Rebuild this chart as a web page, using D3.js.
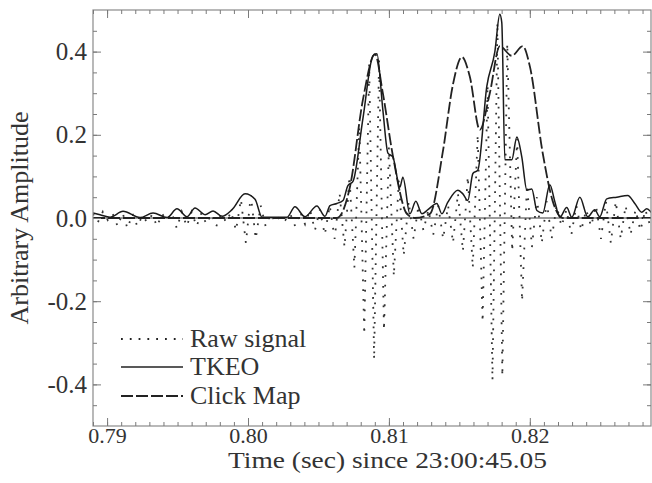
<!DOCTYPE html>
<html>
<head>
<meta charset="utf-8">
<script src="https://cdn.jsdelivr.net/npm/d3@7/dist/d3.min.js"></script>
<style>
    body { margin: 0; background: #fff; }
    text { font-family: "Liberation Serif", "DejaVu Serif", serif; fill: #333; }
</style>
</head>
<body>
<div class="chart"></div>
<script>
// raw signal, sampled from rawStart every rawStep seconds
let rawStart = 0.789;
let rawStep = 0.00035;
let rawValues = [
    0.01, -0.01, 0.015, -0.005, 0.01, -0.02, 0.012, -0.025, 0.01, -0.02,
    0.005, -0.01, 0.008, -0.02, 0.01, -0.005, 0.012, -0.025, 0.015, -0.02,
    0.015, -0.02, 0.012, -0.015, 0.01, -0.02, 0.01, -0.01, 0.015, -0.03,
    0.045, -0.06, 0.055, -0.05, 0.03, -0.02, 0.01, -0.01, 0.005, -0.005,
    0.01, -0.02, 0.015, -0.015, 0.02, -0.03, 0.02, -0.04, 0.03, -0.05,
    0.06, -0.07, 0.10, -0.12, 0.22, -0.28, 0.37, -0.34, 0.38, -0.27,
    0.17, -0.14, 0.09, -0.09, 0.04, -0.05, 0.03, -0.03, 0.02, -0.04,
    0.03, -0.05, 0.03, -0.06, 0.06, -0.08, 0.10, -0.12, 0.20, -0.25,
    0.32, -0.39, 0.47, -0.38, 0.42, -0.08, 0.19, -0.20, 0.08, -0.07,
    0.05, -0.06, 0.04, -0.05, 0.03, -0.02, 0.02, -0.04, 0.03, -0.03,
    0.02, -0.02, 0.03, -0.05, 0.04, -0.06, 0.04, -0.05, 0.03, -0.04,
    0.02, -0.03, 0.02, -0.02
];

let tkeoTimes = [
    0.7890, 0.78950, 0.79021, 0.79113, 0.79234, 0.79326, 0.79426, 0.79496, 0.79567, 0.79624,
    0.79695, 0.79752, 0.79816, 0.79887, 0.79979, 0.80050, 0.80099, 0.80277, 0.80333, 0.80404,
    0.80489, 0.80546, 0.80582, 0.80631, 0.80674, 0.80709, 0.80745, 0.80816, 0.80887, 0.80915,
    0.80957, 0.80993, 0.81028, 0.81078, 0.81099, 0.81149, 0.81191, 0.81234, 0.81277, 0.81340,
    0.81376, 0.81418, 0.81489, 0.81525, 0.81560, 0.81596, 0.81631, 0.81695, 0.81752, 0.81787,
    0.81801, 0.81823, 0.81872, 0.81908, 0.81943, 0.81979, 0.82014, 0.82050, 0.82092, 0.82142,
    0.82177, 0.82213, 0.82262, 0.82298, 0.82355, 0.82411, 0.82461, 0.82496, 0.82546, 0.82617,
    0.82695, 0.82745, 0.82794, 0.82830, 0.82865
];
let tkeoValues = [
    0.012, 0.008, 0.002, 0.016, 0.001, 0.012, 0.001, 0.022, 0.003, 0.024,
    0.008, 0.017, 0.004, 0.020, 0.058, 0.045, 0.002, 0.002, 0.027, 0.003,
    0.029, 0.004, 0.030, 0.035, 0.042, 0.078, 0.088, 0.240, 0.390, 0.395,
    0.260, 0.156, 0.147, 0.074, 0.098, 0.010, 0.040, 0.010, 0.020, 0.035,
    0.010, 0.038, 0.067, 0.058, 0.042, 0.107, 0.115, 0.317, 0.400, 0.490,
    0.470, 0.140, 0.140, 0.195, 0.147, 0.067, 0.070, 0.018, 0.012, 0.080,
    0.040, 0.002, 0.025, 0.002, 0.050, 0.003, 0.020, 0.003, 0.046, 0.050,
    0.054, 0.035, 0.014, 0.022, 0.012
];

let clickTimes = [
    0.7890, 0.80631, 0.80723, 0.80816, 0.80901, 0.80957, 0.81028, 0.81128, 0.81184, 0.81291,
    0.81383, 0.81454, 0.81518, 0.81574, 0.81645, 0.81716, 0.81787, 0.81872, 0.81950, 0.82000,
    0.82092, 0.82163, 0.82234, 0.8286
];
let clickValues = [
    0, 0, 0.074, 0.285, 0.394, 0.300, 0.150, 0.010, 0, 0.010,
    0.160, 0.320, 0.387, 0.340, 0.212, 0.300, 0.413, 0.390, 0.413, 0.365,
    0.155, 0.040, 0, 0
];

let xTicks = [0.79, 0.80, 0.81, 0.82];
let xTickLabels = ["0.79", "0.80", "0.81", "0.82"];
let yTicks = [-0.4, -0.2, 0.0, 0.2, 0.4];
let yTickLabels = ["-0.4", "-0.2", "0.0", "0.2", "0.4"];
let legendNames = ["Raw signal", "TKEO", "Click Map"];

let width = 652, height = 483;
let plot = {left: 93, right: 651, top: 10, bottom: 426};

let svg = d3.select(".chart").append("svg")
    .attr("width", width)
    .attr("height", height);

let x = d3.scaleLinear().domain([0.789, 0.8286]).range([plot.left, plot.right]);
let y = d3.scaleLinear().domain([-0.5, 0.5]).range([plot.bottom, plot.top]);

svg.append("clipPath").attr("id", "plot-clip")
    .append("rect")
    .attr("x", plot.left).attr("y", plot.top)
    .attr("width", plot.right - plot.left).attr("height", plot.bottom - plot.top);

let raw = rawValues.map(function (v, i) {
    return {t: rawStart + i * rawStep, v: v};
});
let tkeo = tkeoTimes.map(function (t, i) {
    return {t: t, v: tkeoValues[i]};
});
let clickMap = clickTimes.map(function (t, i) {
    return {t: t, v: clickValues[i]};
});

let lineLinear = d3.line()
    .x(function (d) { return x(d.t); })
    .y(function (d) { return y(d.v); });
let lineSmooth = d3.line()
    .curve(d3.curveMonotoneX)
    .x(function (d) { return x(d.t); })
    .y(function (d) { return y(d.v); });

let g = svg.append("g").attr("clip-path", "url(#plot-clip)");

// zero line
g.append("line")
    .attr("x1", plot.left).attr("x2", plot.right)
    .attr("y1", y(0)).attr("y2", y(0))
    .attr("stroke", "#7a7a7a")
    .attr("stroke-width", 1.6);

g.append("path")
    .datum(raw)
    .attr("fill", "none")
    .attr("stroke", "#333")
    .attr("stroke-width", 1.8)
    .attr("stroke-dasharray", "1.8,8")
    .attr("d", lineLinear);

g.append("path")
    .datum(clickMap)
    .attr("fill", "none")
    .attr("stroke", "#222")
    .attr("stroke-width", 1.8)
    .attr("stroke-dasharray", "12,3")
    .attr("d", lineSmooth);

g.append("path")
    .datum(tkeo)
    .attr("fill", "none")
    .attr("stroke", "#1a1a1a")
    .attr("stroke-width", 1.5)
    .attr("d", lineSmooth);

// frame
svg.append("rect")
    .attr("x", plot.left).attr("y", plot.top)
    .attr("width", plot.right - plot.left).attr("height", plot.bottom - plot.top)
    .attr("fill", "none")
    .attr("stroke", "#8a8a8a")
    .attr("stroke-width", 1.2);

let xMinor = d3.range(0.789, 0.8286, 0.001);
let yMinor = d3.range(-0.45, 0.5, 0.05);

function styleAxis(sel) {
    sel.select(".domain").remove();
    sel.selectAll(".tick line").attr("stroke", "#7a7a7a").attr("stroke-width", 1);
}

// inward ticks on all four sides
svg.append("g").attr("transform", "translate(0," + plot.bottom + ")")
    .call(d3.axisBottom(x).tickValues(xMinor).tickSize(-4).tickFormat(""))
    .call(styleAxis);
svg.append("g").attr("transform", "translate(0," + plot.top + ")")
    .call(d3.axisTop(x).tickValues(xMinor).tickSize(-4).tickFormat(""))
    .call(styleAxis);
svg.append("g").attr("transform", "translate(0," + plot.top + ")")
    .call(d3.axisTop(x).tickValues(xTicks).tickSize(-8).tickFormat(""))
    .call(styleAxis);
svg.append("g").attr("transform", "translate(" + plot.left + ",0)")
    .call(d3.axisLeft(y).tickValues(yMinor).tickSize(-4).tickFormat(""))
    .call(styleAxis);
svg.append("g").attr("transform", "translate(" + plot.right + ",0)")
    .call(d3.axisRight(y).tickValues(yMinor).tickSize(-4).tickFormat(""))
    .call(styleAxis);
svg.append("g").attr("transform", "translate(" + plot.right + ",0)")
    .call(d3.axisRight(y).tickValues(yTicks).tickSize(-8).tickFormat(""))
    .call(styleAxis);

svg.append("g").attr("transform", "translate(0," + plot.bottom + ")")
    .call(d3.axisBottom(x).tickValues(xTicks).tickSize(-8).tickPadding(1)
        .tickFormat(function (d, i) { return xTickLabels[i]; }))
    .call(styleAxis)
    .selectAll("text")
    .attr("font-size", "22px")
    .style("font-family", "Liberation Serif");

svg.append("g").attr("transform", "translate(" + plot.left + ",0)")
    .call(d3.axisLeft(y).tickValues(yTicks).tickSize(-8).tickPadding(6)
        .tickFormat(function (d, i) { return yTickLabels[i]; }))
    .call(styleAxis)
    .selectAll("text")
    .attr("font-size", "25px")
    .style("font-family", "Liberation Serif");

// axis titles
svg.append("text")
    .attr("x", 228).attr("y", 468)
    .attr("font-size", "23px")
    .attr("textLength", 319)
    .attr("lengthAdjust", "spacingAndGlyphs")
    .text("Time (sec) since 23:00:45.05");

svg.append("text")
    .attr("transform", "translate(28," + y(0) + ") rotate(-90)")
    .attr("text-anchor", "middle")
    .attr("font-size", "26px")
    .text("Arbitrary Amplitude");

// legend
let legendStyles = [
    {dash: "1.8,7", width: 1.8},
    {dash: null, width: 1.5},
    {dash: "12,3", width: 1.8}
];
let legendY = [339, 367, 396];

let legend = svg.selectAll(".legend-item")
    .data(legendNames)
    .enter().append("g")
    .attr("class", "legend-item")
    .attr("transform", function (d, i) { return "translate(0," + legendY[i] + ")"; });

legend.append("line")
    .attr("x1", 121).attr("x2", 183)
    .attr("stroke", "#222")
    .attr("stroke-width", function (d, i) { return legendStyles[i].width; })
    .attr("stroke-dasharray", function (d, i) { return legendStyles[i].dash; });

legend.append("text")
    .attr("x", 190).attr("y", 8)
    .attr("font-size", "26px")
    .text(function (d) { return d; });
</script>
</body>
</html>
